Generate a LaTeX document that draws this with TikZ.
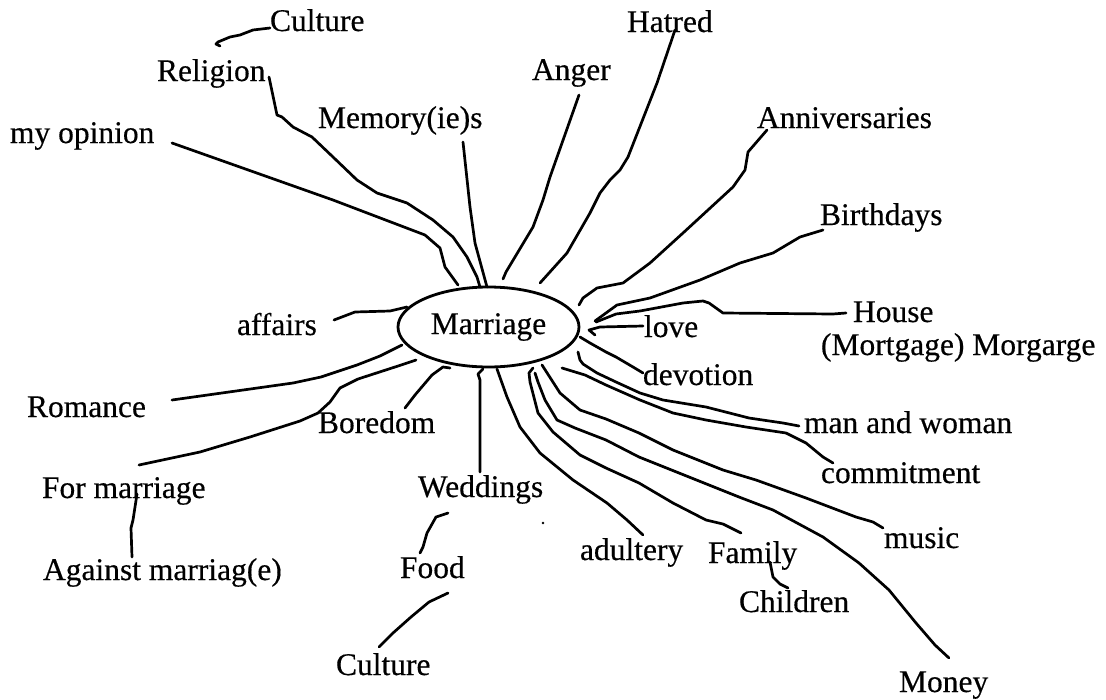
\documentclass[tikz,border=0pt]{standalone}
\usepackage{fontspec}
\setmainfont[FakeBold=0.4]{Liberation Serif}
\usetikzlibrary{shapes.geometric}
\begin{document}
\begin{tikzpicture}[x=1pt,y=-1pt,
  lbl/.style={anchor=base west,inner sep=0pt,outer sep=0pt,font=\fontsize{31.5}{36}\selectfont},
  hub/.style={ellipse,draw,line width=2.8pt,minimum width=181pt,minimum height=80pt,inner sep=0pt,font=\fontsize{31.5}{36}\selectfont},
  conn/.style={line width=2.7pt,line cap=round,line join=round}]
\fill[white] (0,0) rectangle (1106,699);
\useasboundingbox (0,0) rectangle (1106,699);

% hub
\node[hub] (M) at (488.5,327) {\raisebox{-1pt}{Marriage}};

% labels
\node[lbl] (cultT) at (270,31) {Culture};
\node[lbl] (relig) at (157,81) {Religion};
\node[lbl] (memo) at (318,128) {Memory(ie)s};
\node[lbl] (opin) at (10,143) {my opinion};
\node[lbl] (anger) at (532,80) {Anger};
\node[lbl] (hatred) at (627,32) {Hatred};
\node[lbl] (anniv) at (757,128) {Anniversaries};
\node[lbl] (birth) at (820,225) {Birthdays};
\node[lbl] (house) at (853,322) {House};
\node[lbl] (mort) at (821,355) {(Mortgage) Morgarge};
\node[lbl] (love) at (644,337) {love};
\node[lbl] (devot) at (643,385) {devotion};
\node[lbl] (maw) at (804,433) {man and woman};
\node[lbl] (commit) at (821,483) {commitment};
\node[lbl] (music) at (884,548) {music};
\node[lbl] (money) at (899,692) {Money};
\node[lbl] (child) at (739,612) {Children};
\node[lbl] (family) at (708,563) {Family};
\node[lbl] (adult) at (580,560) {adultery};
\node[lbl] (wedd) at (418,497) {Weddings};
\node[lbl] (food) at (400,578) {Food};
\node[lbl] (cultB) at (336,675) {Culture};
\node[lbl] (against) at (43,580) {Against marriag(e)};
\node[lbl] (formar) at (42,498) {For marriage};
\node[lbl] (romance) at (27,417) {Romance};
\node[lbl] (boredom) at (318,433) {Boredom};
\node[lbl] (affairs) at (237,335) {affairs};

% connector end points
\coordinate (cultT-e) at (270,28);   \coordinate (relig-t) at (220,46);
\coordinate (relig-e) at (269,77);   \coordinate (M-relig) at (480,287);
\coordinate (opin-e) at (172,143);   \coordinate (M-opin) at (458,285);
\coordinate (memo-e) at (463,142);   \coordinate (M-memo) at (487,287);
\coordinate (anger-e) at (579,95);   \coordinate (M-anger) at (503,279);
\coordinate (hatred-e) at (675,30);  \coordinate (M-hatred) at (540,283);
\coordinate (anniv-e) at (767,130);  \coordinate (M-anniv) at (579,305);
\coordinate (birth-e) at (823,230);  \coordinate (M-birth) at (595,321);
\coordinate (house-e) at (846,313);  \coordinate (M-house) at (596,322);
\coordinate (love-e) at (643,326);   \coordinate (M-love) at (595,335);
\coordinate (devot-e) at (643,373);  \coordinate (M-devot) at (580,337);
\coordinate (maw-e) at (799,426);    \coordinate (M-maw) at (578,352);
\coordinate (commit-e) at (833,463); \coordinate (M-commit) at (562,368);
\coordinate (music-e) at (883,528);  \coordinate (M-music) at (542,365);
\coordinate (money-e) at (949,658);  \coordinate (M-money) at (535,373);
\coordinate (family-e) at (741,533); \coordinate (M-family) at (533,368);
\coordinate (adult-e) at (643,535);  \coordinate (M-adult) at (497,369);
\coordinate (wedd-e) at (480,472);   \coordinate (M-wedd) at (483,369);
\coordinate (wedd-b) at (448,513);   \coordinate (food-t) at (420,553);
\coordinate (food-b) at (448,593);   \coordinate (cultB-t) at (379,647);
\coordinate (formar-b) at (137,494); \coordinate (against-t) at (132,557);
\coordinate (formar-e) at (139,465); \coordinate (M-formar) at (416,360);
\coordinate (romance-e) at (172,400);\coordinate (M-romance) at (402,345);
\coordinate (boredom-e) at (405,408);\coordinate (M-boredom) at (450,368);
\coordinate (affairs-e) at (334,320);\coordinate (M-affairs) at (407,307);
\coordinate (family-b) at (770,562); \coordinate (child-t) at (788,588);

% connectors
\draw[conn] (cultT-e) -- (253,30) -- (240,35) -- (230,37) -- (218,42) -- (216,44) -- (relig-t);
\draw[conn] (relig-e) -- (277,115) -- (282,117) -- (293,127) -- (312,137) -- (333,157) -- (357,180) -- (377,193) -- (407,203) -- (433,220) -- (453,237) -- (467,257) -- (477,277) -- (M-relig);
\draw[conn] (opin-e) -- (333,200) -- (425,235) -- (440,248) -- (445,267) -- (M-opin);
\draw[conn] (memo-e) -- (470,207) -- (475,243) -- (M-memo);
\draw[conn] (anger-e) -- (550,177) -- (543,200) -- (533,227) -- (512,262) -- (506,272) -- (M-anger);
\draw[conn] (hatred-e) -- (657,83) -- (628,157) -- (620,170) -- (610,180) -- (600,193) -- (590,213) -- (567,253) -- (M-hatred);
\draw[conn] (anniv-e) -- (748,152) -- (745,170) -- (733,187) -- (683,233) -- (650,263) -- (623,283) -- (597,288) -- (583,298) -- (M-anniv);
\draw[conn] (birth-e) -- (800,237) -- (773,253) -- (740,263) -- (700,280) -- (650,298) -- (617,305) -- (M-birth);
\draw[conn] (house-e) -- (833,314) -- (723,313) -- (709,303) -- (703,301) -- (683,303) -- (640,311) -- (616,314) -- (M-house);
\draw[conn] (love-e) -- (600,327) -- (589,330) -- (M-love);
\draw[conn] (devot-e) -- (633,367) -- (616,357) -- (606,352) -- (590,343) -- (M-devot);
\draw[conn] (maw-e) -- (783,423) -- (749,418) -- (706,407) -- (663,400) -- (640,393) -- (616,382) -- (597,373) -- (583,364) -- (580,360) -- (M-maw);
\draw[conn] (commit-e) -- (823,457) -- (806,443) -- (786,433) -- (746,427) -- (706,420) -- (673,413) -- (640,400) -- (606,385) -- (585,375) -- (M-commit);
\draw[conn] (music-e) -- (873,522) -- (856,517) -- (806,498) -- (756,480) -- (723,470) -- (673,450) -- (639,433) -- (606,419) -- (580,410) -- (560,393) -- (M-music);
\draw[conn] (money-e) -- (935,645) -- (916,623) -- (889,590) -- (859,563) -- (823,537) -- (773,510) -- (739,497) -- (689,477) -- (639,457) -- (606,440) -- (575,428) -- (557,420) -- (545,400) -- (538,382) -- (M-money);
\draw[conn] (family-e) -- (723,524) -- (706,520) -- (673,503) -- (639,483) -- (606,468) -- (580,455) -- (553,432) -- (538,413) -- (530,382) -- (529,373) -- (M-family);
\draw[conn] (adult-e) -- (627,520) -- (607,503) -- (573,480) -- (540,453) -- (520,427) -- (507,397) -- (M-adult);
\draw[conn] (wedd-e) -- (480,380) -- (478,374) -- (M-wedd);
\draw[conn] (wedd-b) -- (436,517) -- (427,533) -- (423,547) -- (food-t);
\draw[conn] (food-b) -- (429,602) -- (411,617) -- (393,633) -- (cultB-t);
\draw[conn] (formar-b) -- (133,520) -- (131,528) -- (against-t);
\draw[conn] (formar-e) -- (200,452) -- (250,437) -- (300,421) -- (318,413) -- (330,402) -- (340,388) -- (358,379) -- (395,367) -- (M-formar);
\draw[conn] (romance-e) -- (293,383) -- (321,377) -- (357,365) -- (380,356) -- (M-romance);
\draw[conn] (boredom-e) -- (415,395) -- (432,375) -- (443,367) -- (M-boredom);
\draw[conn] (affairs-e) -- (355,312) -- (390,311) -- (M-affairs);
\draw[conn] (family-b) -- (773,577) -- (780,584) -- (child-t);

% speck
\fill (543,523) circle (1.3);
\end{tikzpicture}
\end{document}
